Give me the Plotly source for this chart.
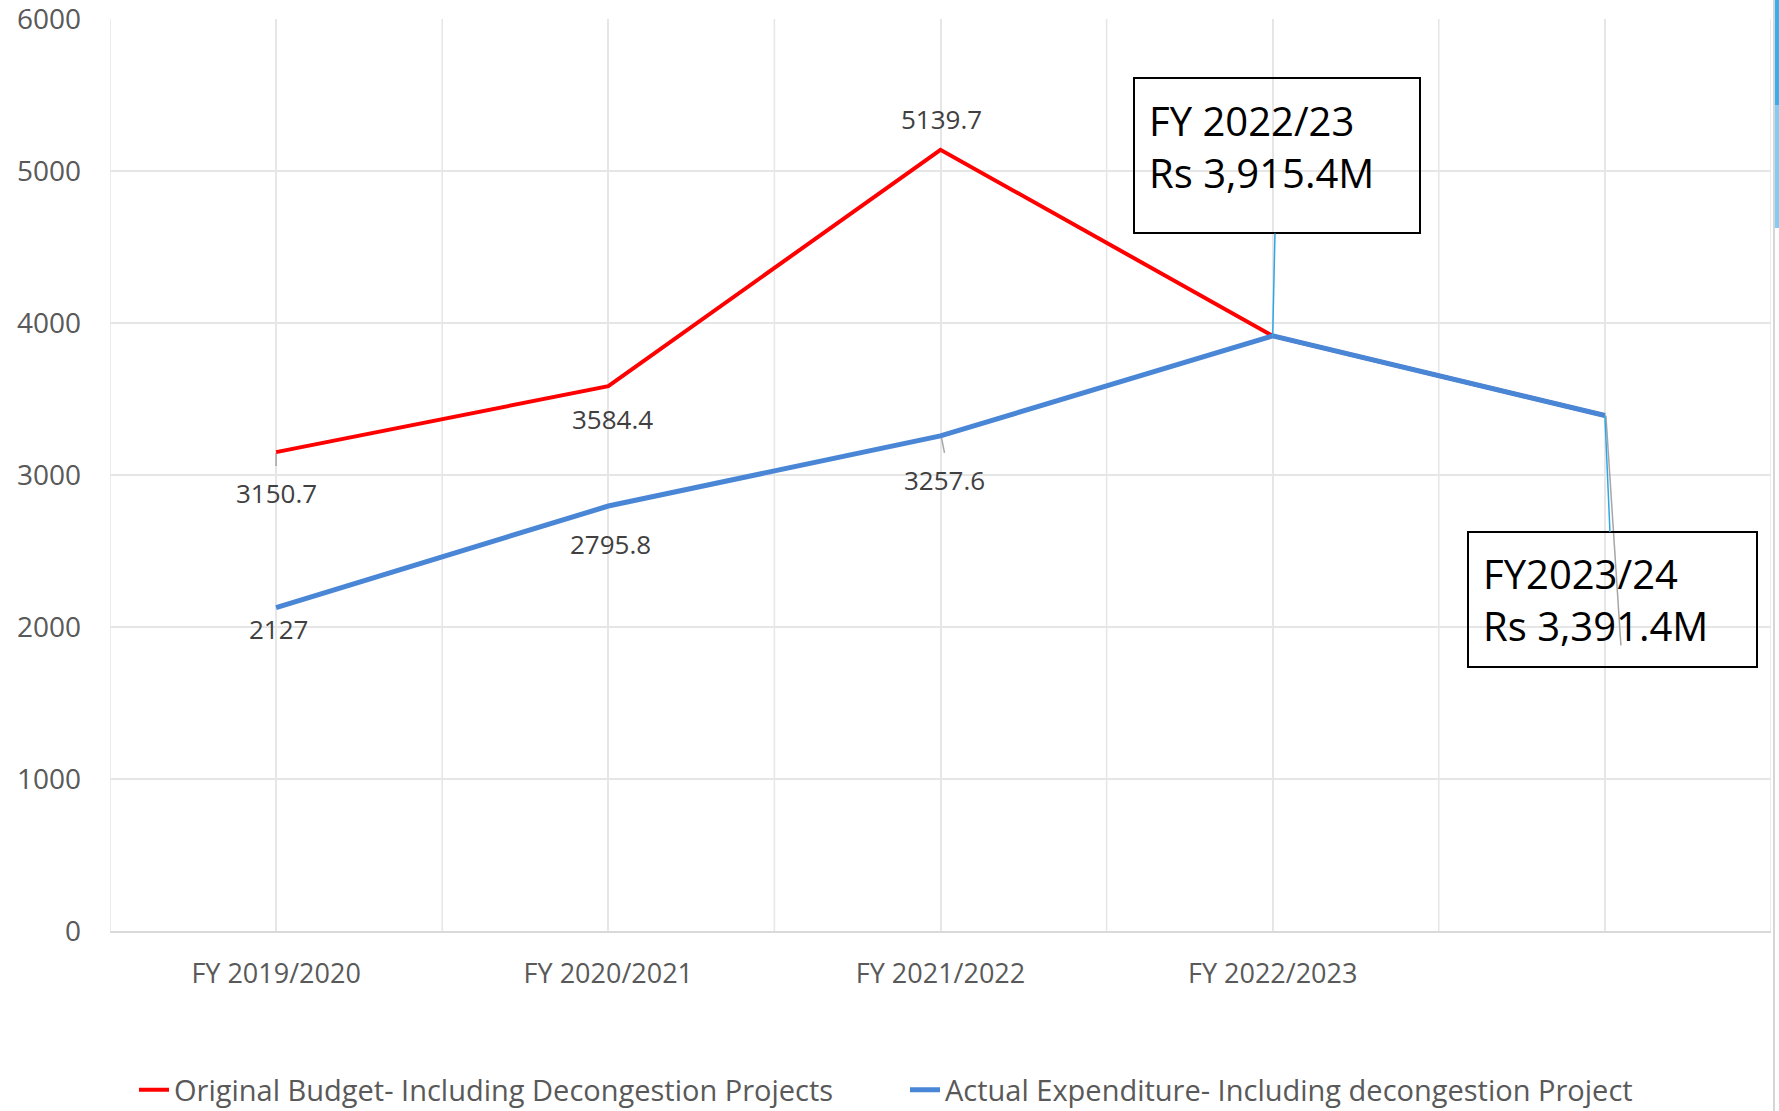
import plotly.graph_objects as go

# ---- data ----
categories = ["FY 2019/2020", "FY 2020/2021", "FY 2021/2022", "FY 2022/2023", " "]
budget = [3150.7, 3584.4, 5139.7, 3915.4, 3391.4]
actual = [2127, 2795.8, 3257.6, 3915.4, 3391.4]
budget_name = "Original Budget- Including Decongestion Projects"
actual_name = "Actual Expenditure- Including decongestion Project"
callout_texts = ["FY 2022/23<br>Rs 3,915.4M", "FY2023/24<br>Rs 3,391.4M"]
y_ticks = [0, 1000, 2000, 3000, 4000, 5000, 6000]

# ---- layout geometry (pixels) ----
W, H = 1779, 1111
ML, MR, MT, MB = 110, 8, 19, 180
PW, PH = W - ML - MR, H - MT - MB

def px_x(px):
    return (px - ML) / PW

def px_y(py):
    return (H - MB - py) / PH

RED = "#FF0000"
BLUE = "#4A86D6"
GRID = "#E6E6E6"
TXT = "#595959"
LBL = "#404040"
FONT = "Open Sans"

fig = go.Figure()
fig.add_trace(go.Scatter(x=categories, y=budget, mode="lines", name=budget_name,
                         line=dict(color=RED, width=4)))
fig.add_trace(go.Scatter(x=categories, y=actual, mode="lines", name=actual_name,
                         line=dict(color=BLUE, width=5)))

annotations = []
# data labels for the first three points of each series (dx, dy offsets in px, dy down positive)
red_offsets = [(0, 41), (4, 33), (1, -31)]
blue_offsets = [(2, 21), (2, 38), (4, 44)]
for vals, offs in ((budget, red_offsets), (actual, blue_offsets)):
    for i, (dx, dy) in enumerate(offs):
        annotations.append(dict(x=categories[i], y=vals[i], text=f"{vals[i]:g}",
                                showarrow=False, xshift=dx, yshift=-dy,
                                font=dict(family=FONT, size=26, color=LBL)))

# callout boxes
callout_cfg = [
    dict(idx=3, ax=4, ay=-180, width=256, height=125, pad=14, valign="top"),
    dict(idx=4, ax=8, ay=184, width=259, height=105, pad=14, valign="middle"),
]
for txt, c in zip(callout_texts, callout_cfg):
    annotations.append(dict(
        x=categories[c["idx"]], y=actual[c["idx"]], text=txt, showarrow=True,
        arrowhead=0, arrowwidth=1.5, arrowcolor="#2EA6E6", standoff=0,
        ax=c["ax"], ay=c["ay"], bordercolor="#000000", borderwidth=2,
        borderpad=c["pad"], align="left", valign=c["valign"], width=c["width"],
        height=c["height"], font=dict(family=FONT, size=40, color="#000000")))

shapes = []
# category boundary gridlines
for i in range(len(categories) + 1):
    shapes.append(dict(type="line", xref="x", yref="paper", x0=i - 0.5, x1=i - 0.5,
                       y0=0, y1=1, line=dict(color=GRID, width=1.5), layer="between"))
# grey leader lines
LEAD = "#A6A6A6"
shapes.append(dict(type="line", xref="x", yref="y", xsizemode="pixel", ysizemode="pixel",
                   xanchor=categories[0], yanchor=budget[0], x0=0, x1=0, y0=-1, y1=-14,
                   line=dict(color=LEAD, width=1.5), layer="between"))
shapes.append(dict(type="line", xref="x", yref="y", xsizemode="pixel", ysizemode="pixel",
                   xanchor=categories[2], yanchor=actual[2], x0=1, x1=4, y0=-2, y1=-17,
                   line=dict(color=LEAD, width=1.5), layer="between"))
shapes.append(dict(type="line", xref="x", yref="y", xsizemode="pixel", ysizemode="pixel",
                   xanchor=categories[4], yanchor=budget[4], x0=1, x1=16, y0=0, y1=-230,
                   line=dict(color=LEAD, width=1.5), layer="above"))
# right edge frame artefacts
shapes.append(dict(type="rect", xref="paper", yref="paper", x0=px_x(1773), x1=px_x(1775),
                   y0=px_y(H), y1=px_y(0), fillcolor="#D6D6D6", line=dict(width=0)))
shapes.append(dict(type="rect", xref="paper", yref="paper", x0=px_x(1775), x1=px_x(1779),
                   y0=px_y(105), y1=px_y(0), fillcolor="#3AADEA", line=dict(width=0)))
shapes.append(dict(type="rect", xref="paper", yref="paper", x0=px_x(1775), x1=px_x(1779),
                   y0=px_y(228), y1=px_y(105), fillcolor="#84CCF3", line=dict(width=0)))

fig.update_layout(
    width=W, height=H,
    margin=dict(l=ML, r=MR, t=MT, b=MB, autoexpand=False),
    paper_bgcolor="white", plot_bgcolor="white",
    font=dict(family=FONT, color=TXT),
    showlegend=True,
    legend=dict(orientation="h", x=px_x(134), xanchor="left", y=px_y(1090), yanchor="middle",
                font=dict(family=FONT, size=29, color=TXT), entrywidth=726,
                entrywidthmode="pixels", traceorder="normal", bgcolor="rgba(0,0,0,0)"),
    xaxis=dict(type="category", range=[-0.5, len(categories) - 0.5], showgrid=True,
               gridcolor=GRID, gridwidth=1.5, showline=True, linecolor="#D9D9D9",
               linewidth=2, ticks="", zeroline=False, ticklabelstandoff=18, automargin=False,
               tickfont=dict(family=FONT, size=27, color=TXT), fixedrange=True),
    yaxis=dict(range=[0, 6000], tickvals=y_ticks, showgrid=True, gridcolor=GRID,
               gridwidth=1.5, zeroline=False, showline=False, ticks="", automargin=False,
               ticklabelstandoff=28, ticklabeloverflow="allow",
               tickfont=dict(family=FONT, size=28, color=TXT), fixedrange=True),
    annotations=annotations,
    shapes=shapes,
)

fig.write_html("out.html", config={"displayModeBar": False},
               post_script="document.body.style.margin='0';")
